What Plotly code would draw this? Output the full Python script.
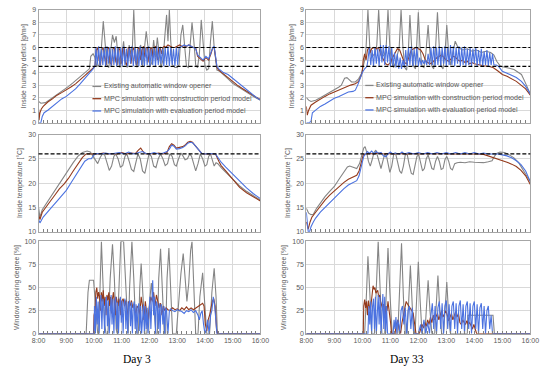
import plotly.graph_objects as go

# ---------------- data (time in minutes after 8:00, value) ----------------
series_names = ["Existing automatic window opener",
                "MPC simulation with construction period model",
                "MPC simulation with evaluation period model"]
day_labels = ["Day 3", "Day 33"]
hum_thresholds = [4.5, 6.0]
temp_thresholds = [26.0]

# Day 3 - inside humidity deficit [g/m3]
hum3_existing = [(0,1.7),(5,1.55),(15,1.6),(25,1.85),(35,2.1),(45,2.4),(55,2.65),(65,2.9),(75,3.2),(85,3.5),(95,3.85),(105,4.1),(110,4.3),(113,5.3),(118,5.5),(122,5.2),(126,4.5),(131,4.6),(136,6.0),(140,8.1),(144,6.0),(148,4.6),(152,4.4),(156,5.5),(160,7.0),(164,6.4),(168,6.9),(172,5.2),(176,4.4),(180,5.3),(184,6.5),(188,4.8),(192,4.4),(196,6.2),(200,5.5),(203,6.0),(206,9.0),(209,6.0),(213,4.4),(217,5.8),(221,6.2),(225,4.5),(229,5.8),(233,7.3),(237,6.0),(241,4.5),(245,4.8),(249,6.6),(253,5.2),(257,6.8),(261,5.5),(265,4.4),(269,5.0),(273,7.2),(277,8.6),(280,6.5),(283,9.0),(286,6.5),(290,4.6),(295,4.4),(300,4.4),(304,4.6),(308,7.0),(312,7.8),(316,6.0),(320,4.5),(324,4.4),(328,6.0),(332,8.0),(336,6.5),(340,4.6),(344,4.4),(348,5.5),(352,8.2),(356,6.2),(360,4.6),(364,4.2),(368,4.3),(372,6.5),(376,8.1),(380,6.0),(383,4.8),(386,4.2),(392,4.1),(400,3.8),(410,3.5),(420,3.15),(430,2.9),(440,2.65),(450,2.4),(460,2.2),(470,2.0),(480,1.8)]
hum3_construction = [(0,1.1),(1,0.2),(3,0.8),(6,1.1),(10,1.3),(15,1.5),(20,1.65),(30,1.9),(40,2.2),(50,2.4),(60,2.6),(70,2.85),(80,3.1),(90,3.4),(100,3.75),(110,4.1),(118,4.4),(122,4.5),(125,5.8),(128,6.0),(131,5.0),(134,4.6),(137,5.8),(140,6.0),(143,5.2),(146,4.6),(149,5.9),(152,6.0),(155,4.8),(158,4.6),(161,5.9),(164,6.0),(167,4.9),(170,4.6),(173,6.0),(176,5.8),(179,4.7),(182,5.9),(185,6.0),(188,4.8),(191,4.6),(194,6.0),(197,5.9),(200,4.7),(203,5.8),(206,6.0),(209,5.0),(212,4.6),(215,5.9),(218,6.0),(221,5.0),(224,5.8),(227,6.1),(230,5.2),(233,6.0),(236,6.0),(239,4.8),(242,5.9),(245,6.0),(248,5.2),(251,6.0),(254,6.1),(257,5.0),(260,5.9),(263,6.0),(266,5.5),(269,6.0),(272,6.1),(275,6.0),(280,6.2),(285,6.1),(290,6.0),(295,6.0),(300,6.1),(305,6.2),(310,6.1),(315,6.0),(320,6.1),(325,6.2),(330,6.1),(335,6.0),(340,6.0),(344,5.3),(350,5.1),(356,4.9),(362,5.2),(368,5.0),(373,5.5),(377,6.0),(380,6.0),(383,5.0),(386,4.4),(390,4.2),(400,3.9),(410,3.6),(420,3.25),(430,3.0),(440,2.75),(450,2.5),(460,2.3),(470,2.05),(480,1.85)]
hum3_evaluation = [(0,0.0),(5,0.0),(8,0.5),(12,0.8),(20,1.0),(30,1.3),(40,1.6),(50,1.9),(60,2.1),(70,2.4),(80,2.7),(90,3.1),(100,3.5),(110,3.9),(118,4.3),(122,4.5),(124,6.0),(127,4.6),(130,6.1),(133,4.5),(136,5.9),(139,4.6),(142,6.0),(145,4.5),(148,6.1),(151,4.7),(154,6.0),(157,4.5),(160,5.9),(163,4.6),(166,6.1),(169,4.5),(172,6.0),(175,4.6),(178,6.0),(181,4.5),(184,6.1),(187,4.6),(190,5.9),(193,4.5),(196,6.0),(199,4.7),(202,6.1),(205,4.5),(208,6.0),(211,4.6),(214,5.9),(217,4.5),(220,6.1),(223,4.6),(226,6.0),(229,4.5),(232,6.0),(235,4.6),(238,6.1),(241,4.5),(244,5.9),(247,4.6),(250,6.0),(253,4.5),(256,6.1),(259,4.6),(262,6.0),(265,4.7),(268,5.9),(271,4.5),(274,6.0),(277,4.6),(280,6.1),(283,4.5),(286,6.0),(289,4.6),(292,5.9),(295,4.5),(298,6.0),(301,4.6),(304,6.0),(310,6.1),(315,6.2),(320,6.1),(325,6.2),(330,6.1),(335,6.0),(340,5.9),(344,5.4),(350,5.2),(356,5.0),(362,5.3),(368,5.1),(373,5.6),(377,6.0),(380,6.1),(383,5.2),(386,4.5),(390,4.3),(400,4.0),(410,3.85),(420,3.55),(430,3.25),(440,2.9),(450,2.6),(460,2.3),(470,2.05),(480,1.8)]

# Day 3 - inside temperature [C]
temp3_existing = [(0,15.0),(3,13.0),(8,14.5),(15,15.5),(25,17.0),(35,18.5),(45,20.0),(55,21.5),(65,22.8),(75,24.2),(85,25.5),(95,26.3),(105,26.6),(112,26.4),(118,25.5),(124,24.5),(128,24.0),(133,25.2),(138,26.0),(143,25.8),(148,24.0),(153,22.6),(158,23.5),(163,25.5),(167,26.0),(172,25.0),(177,23.3),(182,23.6),(187,25.5),(191,26.0),(196,24.5),(201,22.8),(206,22.4),(211,24.5),(215,26.0),(220,25.0),(225,22.5),(230,22.0),(235,24.0),(239,26.0),(244,25.5),(249,23.5),(254,23.2),(259,25.0),(264,26.0),(269,25.0),(274,23.6),(279,24.0),(284,26.0),(289,25.5),(294,23.8),(298,23.5),(303,25.0),(308,26.2),(313,25.5),(317,24.8),(322,25.0),(327,26.0),(331,25.5),(336,23.5),(340,22.5),(345,24.0),(350,26.0),(355,25.0),(360,23.5),(364,23.8),(368,25.5),(372,26.0),(376,24.5),(380,23.5),(384,24.2),(388,24.0),(395,23.2),(405,22.2),(420,20.8),(435,19.4),(450,18.3),(465,17.4),(480,16.5)]
temp3_construction = [(0,13.5),(3,12.5),(8,14.0),(15,15.0),(25,16.2),(35,17.5),(45,18.8),(55,19.8),(65,21.0),(75,22.5),(85,24.0),(95,25.3),(103,26.0),(110,26.0),(120,26.1),(130,26.0),(140,26.2),(150,26.0),(160,26.1),(170,26.0),(180,26.3),(190,26.0),(200,26.2),(210,26.1),(216,26.8),(221,27.2),(226,26.5),(232,26.0),(240,26.1),(250,26.0),(260,26.2),(270,26.0),(278,26.3),(283,27.5),(288,28.1),(293,27.8),(298,27.2),(305,27.3),(312,27.5),(318,27.9),(323,28.4),(328,28.6),(333,28.4),(338,27.8),(343,27.2),(348,26.6),(353,26.1),(360,26.0),(370,26.0),(383,26.0),(390,24.5),(395,23.6),(405,22.5),(420,20.7),(435,19.1),(450,18.0),(465,17.1),(480,16.3)]
temp3_evaluation = [(0,12.5),(3,11.8),(10,13.0),(20,14.2),(30,15.2),(40,16.3),(50,17.5),(60,18.5),(70,20.0),(80,21.5),(90,23.0),(100,24.5),(108,25.0),(114,25.0),(120,25.8),(125,26.1),(135,26.0),(145,26.2),(155,26.0),(165,26.1),(175,26.3),(185,26.0),(195,26.4),(205,26.0),(215,26.2),(225,26.5),(232,26.1),(240,26.0),(250,26.3),(260,26.0),(270,26.2),(278,26.5),(283,27.0),(288,27.8),(293,27.6),(298,27.0),(305,27.1),(312,27.3),(318,27.7),(323,28.2),(328,28.4),(333,28.3),(338,27.8),(343,27.2),(348,26.6),(353,26.1),(360,26.0),(370,26.1),(383,26.0),(390,25.0),(395,24.3),(405,23.3),(420,21.8),(435,20.3),(450,19.0),(465,17.8),(480,16.8)]

# Day 3 - window opening degree [%]
win3_existing = [(0,0),(103,0),(107,45),(110,58),(119,58),(123,30),(128,0),(130,0),(133,60),(136,100),(139,60),(143,10),(146,0),(150,0),(155,60),(160,97),(164,60),(168,5),(170,0),(174,50),(178,100),(184,100),(188,60),(192,5),(194,0),(197,50),(202,100),(206,60),(210,10),(213,0),(216,0),(219,50),(222,76),(226,40),(230,0),(234,0),(240,35),(244,55),(249,30),(254,0),(257,0),(260,60),(264,92),(268,45),(272,0),(275,0),(278,60),(282,93),(286,40),(290,0),(298,0),(303,35),(308,65),(313,87),(317,60),(321,35),(325,55),(329,90),(332,100),(336,50),(340,0),(345,0),(349,40),(355,66),(359,40),(364,0),(370,0),(375,45),(380,71),(384,40),(387,0),(480,0)]
win3_construction = [(0,0),(119,0),(120,20),(122,25),(124,45),(126,50),(128,38),(130,45),(132,40),(134,25),(136,45),(138,35),(140,47),(142,30),(144,40),(146,20),(148,42),(150,36),(152,45),(154,30),(156,40),(158,22),(160,38),(162,45),(164,35),(166,20),(168,40),(170,36),(172,30),(174,38),(176,33),(178,20),(180,35),(183,38),(186,30),(189,36),(192,15),(195,35),(198,30),(201,36),(204,28),(207,32),(210,18),(213,30),(216,28),(219,20),(222,40),(225,30),(228,15),(231,35),(234,20),(237,10),(240,30),(243,40),(246,35),(249,45),(252,30),(255,42),(258,35),(261,28),(264,33),(267,20),(270,30),(273,25),(276,28),(280,26),(285,25),(290,28),(295,26),(300,27),(305,25),(310,28),(315,26),(320,29),(325,26),(330,28),(335,26),(340,28),(345,30),(350,32),(355,33),(358,30),(361,10),(364,3),(367,15),(370,20),(373,30),(376,35),(379,38),(382,30),(385,5),(387,0),(480,0)]
win3_evaluation = [(0,0),(120,0),(121,30),(123,0),(125,40),(127,10),(129,35),(131,0),(133,30),(135,42),(137,5),(139,38),(141,30),(143,0),(145,35),(147,40),(149,8),(151,36),(153,0),(155,30),(157,42),(159,10),(161,38),(163,0),(165,35),(167,40),(169,5),(171,34),(173,0),(175,30),(177,40),(179,12),(181,36),(183,0),(185,33),(187,38),(189,5),(191,35),(193,0),(195,32),(197,36),(199,8),(201,34),(203,0),(205,30),(207,35),(209,5),(211,32),(213,0),(215,28),(217,33),(219,3),(221,30),(223,0),(225,25),(227,32),(229,0),(231,30),(233,5),(235,28),(237,0),(239,30),(241,40),(243,5),(245,45),(247,58),(249,20),(251,40),(253,0),(255,35),(257,30),(259,5),(261,33),(263,0),(265,32),(267,28),(269,10),(271,30),(273,0),(275,28),(277,25),(280,0),(283,25),(286,27),(290,25),(295,24),(300,26),(305,25),(310,24),(315,22),(320,25),(325,24),(330,26),(335,23),(340,25),(345,20),(348,15),(351,22),(354,25),(357,10),(360,0),(363,5),(366,15),(369,0),(372,20),(375,25),(378,40),(381,30),(384,10),(386,0),(480,0)]

# Day 33 - inside humidity deficit [g/m3]
hum33_existing = [(0,2.0),(5,1.8),(10,1.7),(20,1.8),(30,2.0),(40,2.2),(50,2.4),(60,2.65),(70,2.85),(75,3.0),(82,3.55),(87,3.6),(92,3.4),(97,3.25),(105,3.25),(112,3.5),(118,3.9),(122,4.5),(125,5.0),(128,6.0),(132,9.0),(136,6.0),(140,5.2),(144,5.4),(148,5.6),(151,6.2),(155,9.0),(159,6.0),(163,5.3),(167,5.4),(171,6.0),(175,9.0),(179,6.0),(183,4.8),(187,4.4),(191,4.8),(195,5.3),(199,6.0),(203,9.0),(207,6.0),(211,4.4),(215,4.2),(219,6.0),(222,8.6),(226,5.8),(230,4.5),(234,4.3),(236,6.0),(240,8.8),(244,5.8),(248,4.5),(252,4.4),(256,5.5),(261,7.8),(265,5.5),(269,4.5),(273,4.3),(277,6.0),(281,8.8),(285,6.0),(289,4.5),(293,4.3),(297,5.5),(301,7.8),(305,5.5),(309,4.6),(313,5.5),(319,6.5),(325,6.0),(335,5.8),(345,5.9),(355,5.7),(365,5.8),(375,5.6),(385,5.7),(395,5.6),(402,5.4),(408,4.9),(416,4.5),(425,4.45),(435,4.35),(445,4.25),(455,4.0),(461,3.85),(468,3.3),(474,2.8),(480,2.3)]
hum33_construction = [(0,1.3),(2,0.6),(5,1.0),(10,1.4),(20,1.65),(30,1.9),(40,2.1),(50,2.3),(60,2.45),(70,2.6),(80,2.75),(87,2.9),(95,3.0),(105,3.1),(112,3.3),(117,3.7),(120,4.1),(122,5.0),(125,5.5),(128,5.0),(131,5.8),(134,6.0),(137,5.6),(140,5.9),(145,6.0),(150,5.9),(155,6.0),(160,5.4),(165,5.0),(170,4.7),(175,4.6),(180,4.8),(185,5.2),(190,5.6),(195,5.9),(200,5.8),(205,5.3),(210,4.8),(215,4.7),(220,5.2),(225,5.8),(230,5.9),(235,6.0),(240,5.9),(245,5.8),(250,5.5),(255,5.0),(260,4.8),(265,4.7),(270,4.8),(275,5.0),(280,5.2),(285,5.3),(290,5.4),(295,5.2),(300,5.0),(305,4.9),(310,5.1),(315,5.3),(320,5.2),(325,5.0),(330,4.9),(335,5.0),(340,4.8),(345,4.9),(350,4.7),(355,4.8),(360,4.7),(370,4.6),(380,4.55),(390,4.5),(400,4.4),(410,4.15),(420,3.85),(430,3.7),(440,3.5),(450,3.3),(460,3.0),(470,2.7),(480,2.2)]
hum33_evaluation = [(0,0.0),(6,0.0),(10,0.1),(13,0.8),(20,1.0),(30,1.3),(40,1.5),(50,1.75),(60,1.95),(70,2.1),(80,2.3),(90,2.45),(100,2.5),(105,2.6),(110,3.0),(115,3.5),(120,4.0),(125,4.3),(130,4.5),(132,5.0),(135,6.0),(138,4.6),(141,5.8),(144,4.5),(147,6.0),(150,4.7),(153,5.9),(156,4.5),(159,6.2),(162,4.8),(165,6.2),(168,4.6),(171,6.2),(174,4.8),(177,6.1),(180,4.5),(183,6.0),(186,4.5),(189,5.6),(192,4.4),(195,5.5),(198,4.3),(201,5.2),(204,4.3),(207,5.0),(210,4.4),(213,5.8),(216,4.5),(219,6.0),(222,4.6),(225,6.1),(228,4.5),(231,5.9),(234,4.6),(237,6.0),(240,4.5),(243,5.2),(246,4.6),(249,5.0),(252,4.7),(255,5.0),(258,4.6),(261,5.5),(264,4.6),(267,6.0),(270,4.6),(273,6.1),(276,4.5),(279,6.0),(282,4.6),(285,6.1),(288,4.5),(291,6.0),(294,4.7),(297,6.1),(300,4.5),(303,6.0),(306,4.6),(309,6.2),(312,4.6),(315,6.1),(318,4.5),(321,6.0),(324,4.7),(327,6.1),(330,4.5),(333,6.0),(336,4.6),(339,6.1),(342,4.5),(345,5.9),(348,4.6),(351,6.0),(354,4.5),(357,5.9),(360,4.7),(363,6.0),(366,4.5),(369,5.8),(372,4.6),(375,5.9),(378,4.5),(381,5.7),(384,4.6),(387,5.8),(390,4.5),(393,5.6),(396,4.6),(399,5.5),(402,4.6),(407,4.6),(412,4.5),(420,4.1),(430,3.95),(440,3.8),(450,3.6),(461,3.3),(470,2.9),(480,2.3)]

# Day 33 - inside temperature [C]
temp33_existing = [(0,14.8),(5,13.8),(10,13.5),(15,13.6),(22,14.8),(30,15.9),(40,17.2),(50,18.3),(60,19.3),(70,20.8),(80,22.3),(88,23.3),(93,23.5),(100,23.2),(108,23.0),(114,24.0),(119,26.0),(123,27.2),(126,27.5),(129,26.5),(133,24.5),(137,23.5),(141,24.8),(145,26.3),(149,26.8),(153,25.5),(157,23.8),(160,23.0),(164,24.5),(168,26.0),(172,25.5),(176,23.2),(179,22.2),(183,23.5),(187,25.8),(191,26.2),(195,24.5),(200,22.5),(204,22.0),(208,23.5),(212,25.8),(216,26.0),(220,24.0),(225,22.0),(229,21.8),(233,23.5),(237,25.5),(241,25.8),(245,24.0),(249,22.5),(253,23.0),(257,25.0),(261,25.8),(265,24.5),(269,23.0),(273,22.8),(277,24.5),(281,25.5),(285,24.5),(289,22.8),(293,23.0),(297,24.8),(301,25.5),(305,24.5),(309,23.0),(313,22.7),(318,24.0),(323,24.2),(330,24.3),(340,24.2),(350,24.4),(360,24.3),(370,24.3),(380,24.2),(390,24.4),(398,24.6),(403,25.5),(408,26.1),(415,26.4),(425,26.3),(435,25.8),(445,25.2),(455,24.2),(462,23.2),(470,21.8),(480,20.3)]
temp33_construction = [(0,12.0),(2,11.0),(4,10.5),(8,12.0),(12,13.0),(20,14.0),(30,15.3),(40,16.5),(50,17.5),(60,18.4),(70,19.3),(80,20.1),(90,20.8),(100,21.3),(108,21.6),(113,22.5),(118,24.5),(122,25.8),(126,26.0),(135,26.1),(145,26.0),(155,26.2),(165,26.0),(175,26.1),(185,26.0),(200,26.1),(215,26.0),(230,26.1),(245,26.0),(260,26.1),(275,26.0),(290,26.1),(305,26.0),(320,26.0),(335,26.1),(350,26.0),(365,26.0),(380,25.9),(390,25.6),(400,25.3),(410,25.0),(420,24.6),(430,24.3),(440,23.9),(450,23.4),(460,22.6),(470,21.5),(480,19.7)]
temp33_evaluation = [(0,14.0),(2,12.0),(4,10.0),(7,10.0),(10,11.0),(15,12.0),(20,12.8),(30,14.0),(40,15.0),(50,16.0),(60,17.0),(70,17.9),(80,18.8),(90,19.6),(100,20.2),(108,20.5),(113,21.5),(118,23.5),(123,25.5),(127,26.0),(131,26.5),(135,26.1),(140,26.6),(145,26.0),(150,26.5),(155,26.1),(160,26.3),(165,25.6),(170,25.4),(175,26.0),(180,26.4),(185,26.0),(190,26.2),(200,26.0),(205,26.4),(210,26.0),(220,26.3),(230,26.0),(240,26.3),(250,26.0),(260,26.3),(270,26.0),(280,26.3),(290,26.0),(300,26.3),(310,26.0),(320,26.3),(330,26.0),(340,26.3),(350,26.0),(360,26.3),(370,26.0),(380,26.2),(390,26.0),(400,26.0),(410,26.0),(420,25.8),(430,25.6),(440,25.2),(450,24.6),(460,23.8),(470,22.5),(480,20.3)]

# Day 33 - window opening degree [%]
win33_existing = [(0,0),(125,0),(129,45),(132,84),(136,45),(140,0),(146,0),(150,55),(154,100),(158,50),(162,0),(168,0),(172,60),(175,93),(179,45),(184,0),(196,0),(200,60),(204,98),(208,40),(212,0),(216,0),(220,50),(223,74),(227,30),(231,0),(233,0),(237,55),(240,78),(244,35),(248,0),(254,0),(258,40),(261,58),(265,25),(269,0),(275,0),(279,45),(282,63),(286,25),(290,0),(294,0),(298,40),(301,56),(305,20),(309,0),(345,0),(346,20),(400,20),(403,0),(480,0)]
win33_construction = [(0,0),(122,0),(123,30),(125,37),(127,28),(129,35),(131,20),(133,36),(135,30),(137,25),(139,33),(141,45),(143,52),(145,48),(147,50),(149,44),(151,45),(153,47),(155,40),(157,42),(159,35),(161,30),(163,28),(165,32),(167,25),(169,20),(171,30),(173,25),(175,35),(177,28),(179,22),(181,10),(183,0),(190,0),(193,10),(196,15),(199,5),(202,0),(205,12),(208,20),(211,30),(214,35),(217,32),(220,30),(223,28),(226,25),(229,22),(232,10),(235,0),(242,0),(245,5),(248,10),(251,6),(254,12),(257,8),(260,15),(263,10),(266,18),(269,12),(272,20),(275,15),(278,18),(281,22),(284,15),(287,20),(290,25),(293,18),(296,22),(299,25),(302,20),(305,14),(308,18),(311,22),(314,15),(317,20),(320,24),(323,18),(326,22),(329,12),(332,10),(335,15),(338,12),(341,10),(344,14),(347,10),(350,12),(353,8),(356,5),(359,10),(362,5),(365,0),(480,0)]
win33_evaluation = [(0,0),(132,0),(134,30),(136,10),(138,35),(140,0),(142,30),(144,38),(146,5),(148,40),(150,0),(152,35),(154,42),(156,10),(158,40),(160,0),(162,35),(164,43),(166,5),(168,40),(170,0),(172,30),(174,0),(186,0),(188,15),(190,5),(192,18),(194,0),(196,15),(198,10),(200,0),(203,25),(206,30),(209,10),(212,28),(215,0),(218,25),(221,30),(224,5),(227,28),(230,0),(240,0),(245,10),(248,0),(252,15),(256,0),(260,12),(264,0),(267,20),(270,33),(273,5),(276,30),(279,0),(282,28),(285,35),(288,5),(291,33),(294,0),(297,30),(300,36),(303,5),(306,32),(309,0),(312,30),(315,35),(318,5),(321,33),(324,0),(327,30),(330,36),(333,5),(336,32),(339,0),(342,30),(345,35),(348,5),(351,33),(354,0),(357,30),(360,35),(363,5),(366,32),(369,0),(372,28),(375,33),(378,5),(381,30),(384,0),(387,25),(390,30),(393,5),(396,20),(399,0),(480,0)]

# ---------------- figure ----------------
COLORS = ["#858585", "#943a1c", "#4b72e0"]
TXT = "#595959"
FONT = "Liberation Sans"

panels = [
    (1, [hum3_existing, hum3_construction, hum3_evaluation]),
    (2, [hum33_existing, hum33_construction, hum33_evaluation]),
    (3, [temp3_existing, temp3_construction, temp3_evaluation]),
    (4, [temp33_existing, temp33_construction, temp33_evaluation]),
    (5, [win3_existing, win3_construction, win3_evaluation]),
    (6, [win33_existing, win33_construction, win33_evaluation]),
]

fig = go.Figure()
for idx, group in panels:
    for k, s in enumerate(group):
        fig.add_trace(go.Scatter(
            x=[8 + t / 60.0 for t, _ in s], y=[v for _, v in s],
            mode="lines", name=series_names[k],
            line=dict(color=COLORS[k], width=1.1),
            xaxis="x" if idx == 1 else f"x{idx}",
            yaxis="y" if idx == 1 else f"y{idx}",
            showlegend=False, hoverinfo="skip"))

W, H = 550, 373
def px_x(a, b):
    return [a / W, b / W]
def px_y(top, bottom):
    return [1 - bottom / H, 1 - top / H]

xdom = {0: px_x(32.5, 261), 1: px_x(308.3, 539)}
ydom = {0: px_y(6, 121), 1: px_y(133, 232), 2: px_y(242, 336)}
yspec = {0: (0, 9, 1, "Inside humidity deficit [g/m³]"),
         1: (10, 30, 5, "Inside temperature [°C]"),
         2: (0, 100, 25, "Window opening degree [%]")}

layout = dict(width=W, height=H, margin=dict(l=0, r=0, t=0, b=0),
              paper_bgcolor="white", plot_bgcolor="white", showlegend=False,
              font=dict(family=FONT, size=7, color=TXT))
for idx in range(1, 7):
    row, col = (idx - 1) // 2, (idx - 1) % 2
    key = "" if idx == 1 else str(idx)
    lo, hi, dt, title = yspec[row]
    layout["xaxis" + key] = dict(
        domain=xdom[col], range=[8, 16], tickmode="linear", tick0=8, dtick=1,
        ticksuffix=":00", showticklabels=(row == 2),
        tickfont=dict(size=7, color=TXT),
        showgrid=True, gridcolor="#d9d9d9", gridwidth=1,
        showline=True, linecolor="#a6a6a6", linewidth=1, mirror=True,
        ticks="inside", ticklen=3, tickcolor="#7f7f7f",
        minor=dict(dtick=1 / 6, ticks="inside", ticklen=3, tickcolor="#7f7f7f", showgrid=False),
        anchor="y" + key, zeroline=False, fixedrange=True)
    layout["yaxis" + key] = dict(
        domain=ydom[row], range=[lo, hi], tickmode="linear", tick0=lo, dtick=dt,
        tickfont=dict(size=7, color=TXT),
        title=dict(text=title, font=dict(size=6.8, color=TXT), standoff=4),
        showgrid=True, gridcolor="#d9d9d9", gridwidth=1,
        showline=True, linecolor="#a6a6a6", linewidth=1, mirror=True,
        ticks="", zeroline=False, anchor="x" + key, fixedrange=True)

shapes = []
for idx, vals in [(1, hum_thresholds), (2, hum_thresholds), (3, temp_thresholds), (4, temp_thresholds)]:
    key = "" if idx == 1 else str(idx)
    for v in vals:
        shapes.append(dict(type="line", xref=f"x{key} domain", yref=f"y{key}",
                           x0=0, x1=1, y0=v, y1=v,
                           line=dict(color="black", width=1.2, dash="4px,2px")))

annotations = []
# legend keys (inside top panels)
legend_pos = [(88, 97, [84, 96.5, 109]), (369, 377.5, [83, 95.5, 108])]
for (lx0, lx1, rows) in legend_pos:
    for k, ry in enumerate(rows):
        shapes.append(dict(type="line", xref="paper", yref="paper",
                           x0=lx0 / W, x1=lx1 / W, y0=1 - ry / H, y1=1 - ry / H,
                           line=dict(color=COLORS[k], width=1.3)))
        annotations.append(dict(text=series_names[k], xref="paper", yref="paper",
                                x=(lx1 + 1) / W, y=1 - ry / H, xanchor="left", yanchor="middle",
                                showarrow=False, font=dict(size=7.1, color=TXT)))
layout["shapes"] = shapes

for col, lab in enumerate(day_labels):
    xa = "x5" if col == 0 else "x6"
    annotations.append(dict(text=lab, xref=f"{xa} domain", yref="paper",
                            x=0.445 if col == 0 else 0.45, y=1 - 362 / H,
                            showarrow=False, xanchor="center", yanchor="middle",
                            font=dict(family="Liberation Serif", size=11.5, color="#000000")))
layout["annotations"] = annotations

fig.update_layout(**layout)
fig.write_html("out.html", config={"displayModeBar": False, "staticPlot": True},
               post_script="document.body.style.margin='0';document.body.style.overflow='hidden';")
